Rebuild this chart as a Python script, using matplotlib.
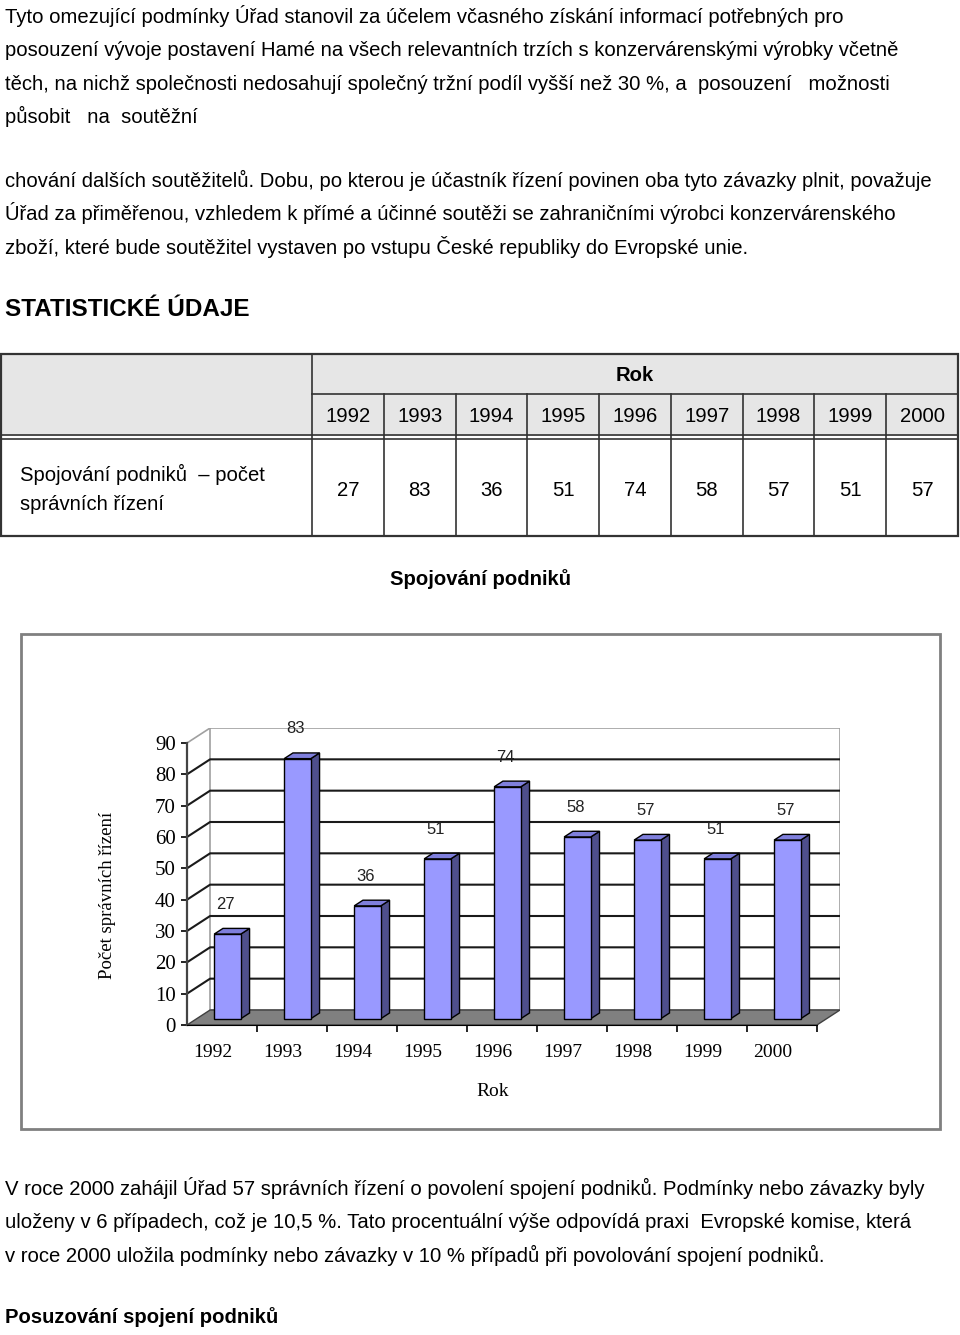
import numpy as np
import matplotlib.pyplot as plt
from matplotlib.patches import Polygon, Rectangle

# data
years = ['1992', '1993', '1994', '1995', '1996', '1997', '1998', '1999', '2000']
counts = [27, 83, 36, 51, 74, 58, 57, 51, 57]
yticks = [0, 10, 20, 30, 40, 50, 60, 70, 80, 90]

para1 = ['Tyto omezující podmínky Úřad stanovil za účelem včasného získání informací potřebných pro',
         'posouzení vývoje postavení Hamé na všech relevantních trzích s konzervárenskými výrobky včetně',
         'těch, na nichž společnosti nedosahují společný tržní podíl vyšší než 30 %, a  posouzení   možnosti',
         'působit   na  soutěžní']
para2 = ['chování dalších soutěžitelů. Dobu, po kterou je účastník řízení povinen oba tyto závazky plnit, považuje',
         'Úřad za přiměřenou, vzhledem k přímé a účinné soutěži se zahraničními výrobci konzervárenského',
         'zboží, které bude soutěžitel vystaven po vstupu České republiky do Evropské unie.']
para3 = ['V roce 2000 zahájil Úřad 57 správních řízení o povolení spojení podniků. Podmínky nebo závazky byly',
         'uloženy v 6 případech, což je 10,5 %. Tato procentuální výše odpovídá praxi  Evropské komise, která',
         'v roce 2000 uložila podmínky nebo závazky v 10 % případů při povolování spojení podniků.']

sans = ['Liberation Sans', 'DejaVu Sans']
serif = ['Liberation Serif', 'DejaVu Serif']
fs = 14.6
W, H = 960, 1335

fig = plt.figure(figsize=(W / 100, H / 100), dpi=100)
page = fig.add_axes([0, 0, 1, 1])
page.set_xlim(0, W)
page.set_ylim(H, 0)
page.axis('off')

# body text
for k, line in enumerate(para1):
    page.text(5, 23 + 33.3 * k, line, family=sans, fontsize=fs, va='baseline')
for k, line in enumerate(para2):
    page.text(5, 187 + 33.3 * k, line, family=sans, fontsize=fs, va='baseline')
page.text(5, 316, 'STATISTICKÉ ÚDAJE', family=sans, fontsize=17.5, fontweight='bold', va='baseline')
for k, line in enumerate(para3):
    page.text(5, 1195 + 33.5 * k, line, family=sans, fontsize=fs, va='baseline')
page.text(5, 1323, 'Posuzování spojení podniků', family=sans, fontsize=fs,
          fontweight='bold', va='baseline')

# table
tx0, tx1, ty0, ty1 = 1, 958, 354, 536
col0 = 312
colw = (tx1 - col0) / len(years)
page.add_patch(Rectangle((tx0, ty0), tx1 - tx0, 436 - ty0, facecolor='#e6e6e6', edgecolor='none'))
page.add_patch(Rectangle((tx0, ty0), tx1 - tx0, ty1 - ty0, facecolor='none', edgecolor='#333333', lw=1.6))
page.plot([col0, col0], [ty0, ty1], color='#333333', lw=1.2)
page.plot([col0, tx1], [394, 394], color='#333333', lw=1.2)
for j in range(1, len(years)):
    page.plot([col0 + j * colw] * 2, [394, ty1], color='#333333', lw=1.2)
page.plot([tx0, tx1], [435, 435], color='#333333', lw=1.2)
page.plot([tx0, tx1], [438.5, 438.5], color='#333333', lw=1.2)
page.text((col0 + tx1) / 2, 381, 'Rok', family=sans, fontsize=fs, fontweight='bold',
          ha='center', va='baseline')
for j, (yr, c) in enumerate(zip(years, counts)):
    xc = col0 + (j + 0.5) * colw
    page.text(xc, 422, yr, family=sans, fontsize=fs, ha='center', va='baseline')
    page.text(xc, 496, str(c), family=sans, fontsize=fs, ha='center', va='baseline')
page.text(20, 481, 'Spojování podniků  – počet', family=sans, fontsize=fs, va='baseline')
page.text(20, 510, 'správních řízení', family=sans, fontsize=fs, va='baseline')

page.text(480, 585, 'Spojování podniků', family=sans, fontsize=fs, fontweight='bold',
          ha='center', va='baseline')

# chart frame
page.add_patch(Rectangle((21, 634), 919, 495, facecolor='white', edgecolor='#808080', lw=2))
page.text(107, 895, 'Počet správních řízení', family=serif, fontsize=13.5,
          rotation=90, ha='center', va='center')
page.text(493, 1091, 'Rok', family=serif, fontsize=14, ha='center', va='center')

# pseudo-3D bar chart
n = len(years)
DX, DY = 0.33, 4.79
ymax = yticks[-1]
ax = fig.add_axes([187 / W, 1 - 1025 / H, (840 - 187) / W, (1025 - 728) / H])
ax.set_facecolor('none')
ax.set_xlim(0, n + DX)
ax.set_ylim(0, ymax + DY)

# back wall, floor
ax.add_patch(Polygon([(DX, DY), (n + DX, DY), (n + DX, ymax + DY), (DX, ymax + DY)],
                     facecolor='white', edgecolor='#a0a0a0', lw=1.2, zorder=1))
ax.plot([0, DX], [ymax, ymax + DY], color='#a0a0a0', lw=1.2, zorder=1)
for v in yticks[1:-1]:
    ax.plot([0, DX, n + DX], [v, v + DY, v + DY], color='#1a1a1a', lw=1.5, zorder=2)
ax.add_patch(Polygon([(0, 0), (n, 0), (n + DX, DY), (DX, DY)],
                     facecolor='#808080', edgecolor='#404040', lw=1, zorder=3))

a, b, d0, d1 = 0.25, 0.63, 0.42, 0.8
for i, v in enumerate(counts):
    x0, x1 = i + a, i + b
    front = [(x0 + d0 * DX, d0 * DY), (x1 + d0 * DX, d0 * DY),
             (x1 + d0 * DX, v + d0 * DY), (x0 + d0 * DX, v + d0 * DY)]
    side = [(x1 + d0 * DX, d0 * DY), (x1 + d1 * DX, d1 * DY),
            (x1 + d1 * DX, v + d1 * DY), (x1 + d0 * DX, v + d0 * DY)]
    top = [(x0 + d0 * DX, v + d0 * DY), (x1 + d0 * DX, v + d0 * DY),
           (x1 + d1 * DX, v + d1 * DY), (x0 + d1 * DX, v + d1 * DY)]
    ax.add_patch(Polygon(side, facecolor='#4f4f8c', edgecolor='black', lw=1, zorder=4))
    ax.add_patch(Polygon(top, facecolor='#7f7fdc', edgecolor='black', lw=1, zorder=4))
    ax.add_patch(Polygon(front, facecolor='#9999ff', edgecolor='black', lw=1, zorder=5))
    ax.text(i + (a + b) / 2 + d0 * DX - 0.03, v + d0 * DY + 9.5, str(v), family=sans,
            fontsize=12, color='#222222', ha='center', va='center', zorder=6)

for s in ['top', 'right']:
    ax.spines[s].set_visible(False)
ax.spines['left'].set_bounds(0, ymax)
ax.spines['bottom'].set_bounds(0, n)
ax.spines['left'].set_color('#444444')
ax.spines['left'].set_linewidth(1.6)
ax.spines['left'].set_zorder(7)
ax.spines['bottom'].set_zorder(7)
ax.set_yticks(yticks)
ax.set_yticklabels([str(t) for t in yticks], family=serif, fontsize=15)
ax.tick_params(axis='y', length=4, width=1.2, pad=4, direction='out')
ax.set_xticks(np.arange(n) + 0.5 - 0.13)
ax.set_xticklabels(years, family=serif, fontsize=14)
ax.tick_params(axis='x', which='major', length=0, pad=14)
ax.set_xticks(np.arange(1, n + 1), minor=True)
ax.tick_params(axis='x', which='minor', length=5, width=1.2, direction='out')

fig.savefig('out.png', dpi=100)
